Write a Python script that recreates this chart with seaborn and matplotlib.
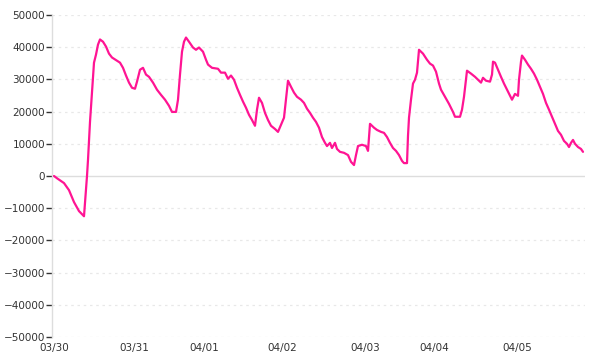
import matplotlib
matplotlib.use("Agg")
import matplotlib.pyplot as plt
import seaborn as sns
import pandas as pd

# sample index along the x axis and the value at each sample
sample = [0, 3, 10, 15, 20, 25, 30, 33, 34, 36, 38, 40, 42, 44, 46, 49, 52, 55, 58, 63,
          66, 69, 72, 75, 78, 81, 83, 86, 89, 92, 95, 99, 103, 107, 111, 115, 118, 122, 124, 126,
          128, 130, 132, 135, 139, 142, 145, 149, 152, 154, 158, 164, 167, 171, 174, 177, 180, 183, 186, 189,
          192, 195, 198, 201, 203, 205, 208, 211, 214, 217, 221, 224, 227, 230, 232, 234, 237, 240, 243, 247,
          250, 253, 256, 259, 262, 265, 268, 271, 273, 276, 278, 281, 283, 286, 290, 294, 297, 300, 302, 304,
          308, 312, 314, 316, 320, 323, 327, 330, 333, 336, 339, 342, 345, 348, 350, 353, 354, 355, 357, 359,
          361, 363, 365, 369, 373, 376, 379, 382, 385, 387, 391, 395, 399, 401, 406, 408, 410, 412, 413, 417,
          421, 425, 427, 429, 432, 436, 438, 439, 441, 444, 447, 450, 453, 456, 458, 461, 464, 465, 467, 468,
          471, 474, 477, 480, 483, 486, 489, 492, 495, 498, 501, 504, 507, 510, 513, 515, 517, 519, 521, 524,
          527, 529]
value = [0, -700, -2200, -4400, -8100, -10900, -12500, 0, 5000, 16800, 25900, 35200, 37700, 40800, 42400, 41700, 40200, 38000, 36800, 35800,
         35200, 33600, 31200, 29000, 27400, 27100, 29300, 33000, 33600, 31500, 30800, 29000, 26800, 25200, 23700, 21800, 19900, 19900, 23700, 31500,
         38600, 41700, 43000, 41700, 39900, 39200, 39900, 38600, 36100, 34600, 33600, 33300, 32100, 32100, 30200, 31200, 29900, 27400, 25200, 23100,
         21200, 19000, 17400, 15600, 20600, 24300, 22700, 19600, 17400, 15600, 14600, 13700, 15900, 18100, 23700, 29600, 27700, 25900, 24600, 23700,
         22700, 20900, 19600, 18100, 16800, 15000, 12100, 10300, 9300, 10300, 8700, 10300, 8400, 7500, 7200, 6500, 4400, 3400, 6500, 9300,
         9700, 9300, 7800, 16200, 15000, 14300, 13700, 13400, 12100, 10300, 8700, 7800, 6500, 4700, 4000, 4000, 12500, 18100, 23700, 28700,
         29900, 32100, 39200, 38000, 36100, 34900, 34300, 32400, 28700, 26800, 24600, 22400, 19900, 18400, 18400, 20600, 24600, 29900, 32700, 31800,
         30800, 29600, 29000, 30500, 29600, 29300, 31500, 35500, 35200, 33000, 30800, 28700, 26800, 24900, 23700, 25500, 24900, 29900, 35500, 37400,
         36100, 34600, 33300, 31800, 29900, 27700, 25500, 22700, 20600, 18400, 16200, 14000, 12800, 10900, 10000, 9000, 10300, 11200, 10000, 9000,
         8400, 7500]

tick_pos = [0, 80, 150, 228, 311, 380, 463]
tick_labels = ["03/30", "03/31", "04/01", "04/02", "04/03", "04/04", "04/05"]
y_ticks = [-50000, -40000, -30000, -20000, -10000, 0, 10000, 20000, 30000, 40000, 50000]

df = pd.DataFrame({"sample": sample, "value": value})

sns.set_theme(style="white")
plt.rcParams["font.family"] = ["DejaVu Sans"]

fig = plt.figure(figsize=(6, 3.6), dpi=100)
ax = fig.add_axes([52 / 600, 1 - 337 / 360, (585 - 52) / 600, (337 - 15) / 360])

for yv in y_ticks:
    if yv == 0:
        ax.axhline(yv, color="#dddddd", lw=1.0, zorder=1)
    else:
        ax.axhline(yv, color="#e8e8e8", lw=0.9, ls=(0, (2, 3)), zorder=1)

sns.lineplot(data=df, x="sample", y="value", color="#ff1493", lw=1.6, ax=ax, zorder=3)

ax.set_xlim(-2, 531)
ax.set_ylim(-50000, 50000)
ax.set_yticks(y_ticks)
ax.set_yticklabels([f"{v:d}".replace("-", "\u2212") for v in y_ticks])
ax.set_xticks(tick_pos)
ax.set_xticklabels(tick_labels)
ax.set_xlabel("")
ax.set_ylabel("")

for s in ["top", "right", "bottom"]:
    ax.spines[s].set_visible(False)
ax.spines["left"].set_color("#dddddd")
ax.spines["left"].set_linewidth(1.0)

ax.tick_params(axis="y", left=True, length=4, width=1, color="#333333", labelsize=7.5,
               labelcolor="#333333", pad=1)
ax.tick_params(axis="x", bottom=False, length=0, labelsize=7.5, labelcolor="#333333", pad=4)

fig.savefig("out.png", dpi=100)
